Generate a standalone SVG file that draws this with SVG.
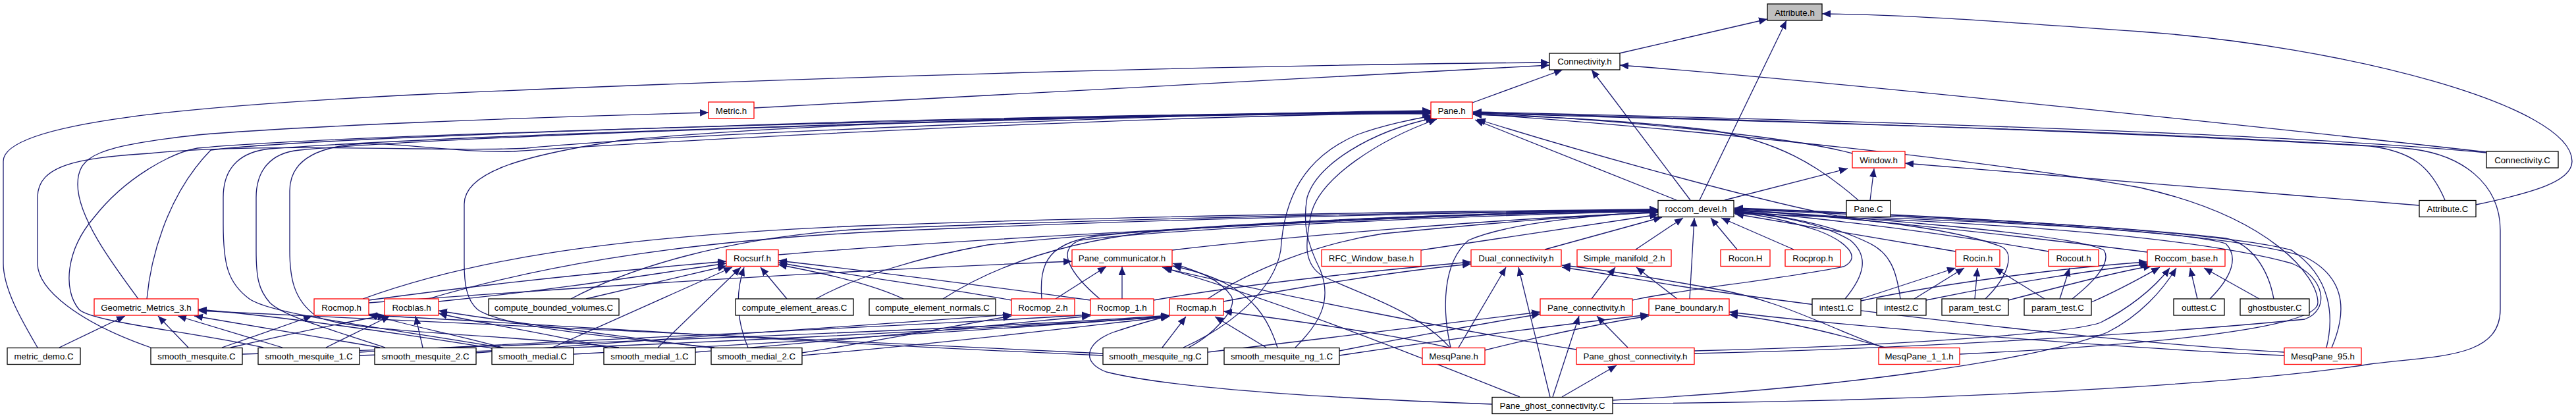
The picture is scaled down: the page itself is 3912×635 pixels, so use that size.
<svg xmlns="http://www.w3.org/2000/svg" width="3912" height="635" viewBox="0 0 3912 635">
<style>
.node rect{fill:#fff;stroke:#000;stroke-width:1.3}
.node.r rect{stroke:#ff0000}
.node.g rect{fill:#bfbfbf}
.node text{font-family:"Liberation Sans",Arial,sans-serif;font-size:13.3px;text-anchor:middle;fill:#000}
#edges path{fill:none;stroke:#191970;stroke-width:1.3;marker-end:url(#a)}
</style>
<defs>
<marker id="a" markerUnits="userSpaceOnUse" markerWidth="14" markerHeight="12" refX="13" refY="5.5" orient="auto"><path d="M0,0 L13,5.5 L0,11 z" fill="#191970" stroke="none"/></marker>
</defs>
<rect width="3912" height="635" fill="#fff"/>
<g id="edges">
<path d="M2459,81 L2684,29"/>
<path d="M2581,304 L2713,31"/>
<path d="M3760,311 C3850,292 3906,275 3906,245 C3906,160 3560,70 3250,48 C3050,34 2900,22 2767,21"/>
<path d="M57,528 C35,490 5,440 5,400 L5,245 C5,185 300,160 650,143 C1200,118 1900,98 2353,95"/>
<path d="M1145,164 C1600,140 2000,118 2353,99"/>
<path d="M2236,156 L2373,106"/>
<path d="M2567,304 L2417,106"/>
<path d="M3776,231 C3500,200 2800,125 2460,99"/>
<path d="M210,454 C170,400 118,330 118,280 C118,235 150,222 300,205 C450,192 800,178 1076,171"/>
<path d="M223,454 C228,400 250,300 320,228 C420,215 800,200 1300,185 C1700,175 2000,171 2173,170"/>
<path d="M229,528 C120,490 57,440 57,400 L57,300 C57,250 120,240 227,233 C400,215 700,232 800,225 C1000,205 1800,172 2173,168"/>
<path d="M400,528 C300,505 140,490 120,470 C95,440 100,380 143,330 C190,270 260,232 300,225 C500,205 1500,178 2173,169"/>
<path d="M760,528 C600,500 420,480 380,455 C345,430 339,400 339,340 L339,300 C339,250 370,230 410,226 C700,205 1600,176 2173,170"/>
<path d="M585,528 C500,500 430,480 410,460 C392,440 389,420 389,380 L389,300 C389,260 410,232 455,228 C700,205 1600,176 2173,171"/>
<path d="M940,528 C800,510 520,505 480,480 C445,455 440,420 440,380 L440,290 C440,250 470,225 540,219 C600,215 700,233 780,230 C1000,215 1700,176 2173,172"/>
<path d="M1085,528 C900,510 760,495 725,470 C708,455 705,430 705,400 L705,310 C705,260 800,235 945,213 C1300,180 1900,171 2173,173"/>
<path d="M1797,528 C1870,495 1935,440 1945,380 C1950,300 1980,240 2060,205 C2100,190 2150,180 2175,176"/>
<path d="M1967,528 C2000,495 2025,460 2005,410 C1985,370 1978,340 1985,300 C2000,250 2080,200 2178,179"/>
<path d="M2202,528 C2150,470 2060,445 2010,420 C1975,400 1985,360 1990,330 C2000,270 2100,210 2182,181"/>
<path d="M2546,304 L2240,182"/>
<path d="M2813,233 C2700,203 2400,178 2237,172"/>
<path d="M2822,304 C2760,250 2700,215 2600,198 C2450,180 2300,176 2237,174"/>
<path d="M3776,232 C3500,205 2900,185 2237,170"/>
<path d="M3713,304 C3690,250 3660,230 3600,222 C3300,205 2800,185 2237,171"/>
<path d="M2449,613 C2900,612 3400,585 3600,553 C3700,540 3797,545 3797,470 L3797,350 C3797,280 3740,232 3650,225 C3300,200 2700,185 2237,172"/>
<path d="M3541,528 C3566,470 3560,420 3500,390 C3350,345 2950,335 2790,328 C2650,300 2400,230 2243,181"/>
<path d="M2976,538 C3250,525 3520,500 3520,460 C3520,420 3450,330 3250,285 C3000,240 2500,190 2237,173"/>
<path d="M2619,304 L2806,256"/>
<path d="M2840,304 L2846,256"/>
<path d="M3674,312 C3400,290 3100,265 2893,248"/>
<path d="M1182,387 C1500,360 2200,325 2518,318"/>
<path d="M551,454 C700,400 900,360 1310,343 C1800,325 2300,320 2518,318"/>
<path d="M650,454 C800,410 1000,370 1310,353 C1800,330 2300,322 2518,319"/>
<path d="M867,454 C950,410 1100,360 1310,348 C1800,328 2300,321 2518,319"/>
<path d="M1239,454 C1300,420 1400,390 1500,372 C1800,340 2300,323 2518,320"/>
<path d="M1432,454 C1500,410 1600,370 1750,352 C2000,332 2300,322 2518,320"/>
<path d="M1582,454 C1578,400 1590,365 1680,357 C1900,335 2300,322 2518,320"/>
<path d="M1670,454 C1630,420 1600,380 1640,365 C1800,345 2300,325 2518,321"/>
<path d="M1834,454 C1900,410 2000,370 2100,355 C2300,335 2450,325 2518,322"/>
<path d="M1780,380 C1950,360 2300,330 2518,323"/>
<path d="M2158,380 L2518,326"/>
<path d="M2346,379 L2524,330"/>
<path d="M2484,379 L2556,331"/>
<path d="M2566,454 L2573,331"/>
<path d="M2638,379 L2598,331"/>
<path d="M2724,379 L2614,331"/>
<path d="M2970,382 L2635,325"/>
<path d="M3111,382 C2900,345 2700,325 2634,321"/>
<path d="M3261,383 C3000,350 2750,325 2634,319"/>
<path d="M2802,454 C2830,420 2840,390 2810,365 C2760,335 2680,325 2634,322"/>
<path d="M2886,454 C2880,410 2870,385 2840,370 C2780,340 2700,326 2634,321"/>
<path d="M3015,454 C3050,420 3060,385 3040,375 C2950,340 2750,325 2634,320"/>
<path d="M3147,454 C3190,420 3205,395 3195,380 C3150,355 2800,328 2634,319"/>
<path d="M3356,454 C3390,420 3400,390 3380,370 C3300,345 2800,325 2634,318"/>
<path d="M3453,454 C3445,410 3420,370 3380,362 C3200,340 2800,323 2634,317"/>
<path d="M3533,528 C3545,480 3540,420 3480,380 C3350,345 2800,322 2634,316"/>
<path d="M2203,528 C2190,470 2190,400 2230,365 C2300,335 2450,325 2518,322"/>
<path d="M2479,456 C2550,440 2700,425 2800,405 C2830,390 2800,365 2760,350 C2700,330 2660,325 2634,323"/>
<path d="M2573,537 C2900,530 3300,505 3500,485 C3540,470 3530,420 3480,400 C3300,350 2900,333 2634,324"/>
<path d="M1752,456 C1900,430 2100,410 2234,398"/>
<path d="M1858,458 C1980,435 2120,412 2234,401"/>
<path d="M2215,528 L2287,406"/>
<path d="M2354,603 L2306,406"/>
<path d="M2860,528 C2760,490 2700,455 2600,438 C2500,420 2420,408 2372,403"/>
<path d="M3469,535 C3200,520 2800,470 2600,442 C2500,428 2420,412 2372,406"/>
<path d="M2417,454 L2453,406"/>
<path d="M2547,454 L2485,406"/>
<path d="M2358,603 L2398,480"/>
<path d="M2472,528 L2425,480"/>
<path d="M2034,533 C2150,510 2250,492 2339,477"/>
<path d="M1834,535 C2000,515 2200,492 2339,474"/>
<path d="M2034,540 C2200,515 2400,490 2504,478"/>
<path d="M2255,532 C2350,508 2450,488 2504,480"/>
<path d="M2863,528 C2780,505 2700,485 2626,478"/>
<path d="M3469,540 C3200,528 2800,495 2626,474"/>
<path d="M2372,603 L2455,555"/>
<path d="M1603,454 L1680,405"/>
<path d="M1704,454 L1704,405"/>
<path d="M2308,603 C2150,540 1950,460 1765,406"/>
<path d="M1805,528 C1840,510 1880,470 1870,450 C1850,420 1810,410 1781,400"/>
<path d="M1940,528 C1925,480 1900,450 1860,430 C1830,415 1800,408 1781,404"/>
<path d="M560,460 C900,435 1300,410 1628,397"/>
<path d="M2394,531 C2200,500 1950,450 1767,407"/>
<path d="M560,456 C750,430 950,410 1103,397"/>
<path d="M666,458 C850,440 1000,415 1103,400"/>
<path d="M890,454 L1103,404"/>
<path d="M1195,454 L1155,406"/>
<path d="M1372,454 C1320,430 1250,415 1182,402"/>
<path d="M1536,456 C1420,435 1300,420 1182,399"/>
<path d="M1656,456 C1500,435 1350,415 1182,396"/>
<path d="M839,528 L1112,406"/>
<path d="M999,528 L1125,406"/>
<path d="M1136,528 C1120,490 1115,450 1130,406"/>
<path d="M90,528 L190,480"/>
<path d="M286,528 L240,480"/>
<path d="M429,528 L270,480"/>
<path d="M577,528 L295,480"/>
<path d="M760,531 C600,505 420,480 301,470"/>
<path d="M337,528 L474,480"/>
<path d="M770,530 C700,510 620,495 560,477"/>
<path d="M495,528 L592,480"/>
<path d="M642,528 L631,480"/>
<path d="M350,528 C450,505 520,490 586,479"/>
<path d="M930,530 C830,505 720,490 666,476"/>
<path d="M1090,530 C900,505 760,488 666,472"/>
<path d="M546,535 C900,515 1400,495 1656,478"/>
<path d="M1056,535 C1300,515 1500,495 1656,480"/>
<path d="M1923,528 L1845,481"/>
<path d="M723,536 C1000,515 1350,492 1536,478"/>
<path d="M1218,536 C1350,515 1450,495 1536,480"/>
<path d="M1765,528 L1801,481"/>
<path d="M368,538 C800,525 1500,500 1776,479"/>
<path d="M871,538 C1200,520 1600,495 1776,480"/>
<path d="M546,540 C1000,525 1500,500 1776,481"/>
<path d="M1218,540 C1450,520 1650,495 1776,481"/>
<path d="M2200,528 C2100,505 1950,485 1858,473"/>
<path d="M2266,614 C2100,608 1800,595 1680,565 C1640,550 1650,520 1690,505 C1720,495 1745,487 1776,480"/>
<path d="M2826,454 L2970,407"/>
<path d="M2907,454 L2983,407"/>
<path d="M2999,454 L3003,407"/>
<path d="M3105,454 L3029,407"/>
<path d="M3128,454 L3143,407"/>
<path d="M2826,457 C2950,430 3150,405 3261,398"/>
<path d="M2925,456 C3050,430 3180,410 3263,401"/>
<path d="M3050,456 C3150,430 3220,412 3268,404"/>
<path d="M3176,459 C3220,440 3255,420 3280,406"/>
<path d="M3337,454 L3326,407"/>
<path d="M3431,454 L3347,407"/>
<path d="M2573,533 C2900,525 3150,505 3190,490 C3230,470 3270,440 3295,407"/>
<path d="M2449,608 C2800,590 3100,545 3200,505 C3250,480 3285,440 3305,407"/>
<path d="M1675,537 C1200,515 600,485 301,472"/>
<path d="M1675,540 C1200,520 800,490 560,479"/>
</g>
<g id="n_attribute_h" class="node g"><rect x="2684" y="6" width="83" height="25"/><text x="2725.5" y="23.5">Attribute.h</text></g>
<g id="n_connectivity_h" class="node"><rect x="2353" y="81" width="107" height="25"/><text x="2406.5" y="98">Connectivity.h</text></g>
<g id="n_metric_h" class="node r"><rect x="1076" y="155" width="69" height="25"/><text x="1110.5" y="172.5">Metric.h</text></g>
<g id="n_pane_h" class="node r"><rect x="2173" y="155" width="63" height="25"/><text x="2204.5" y="172.5">Pane.h</text></g>
<g id="n_window_h" class="node r"><rect x="2813" y="230" width="80" height="25"/><text x="2853" y="247.5">Window.h</text></g>
<g id="n_connectivity_c" class="node"><rect x="3776" y="230" width="109" height="25"/><text x="3830.5" y="247.5">Connectivity.C</text></g>
<g id="n_roccom_devel_h" class="node"><rect x="2518" y="304.5" width="115" height="25"/><text x="2575.5" y="322">roccom_devel.h</text></g>
<g id="n_pane_c" class="node"><rect x="2804" y="304.5" width="67" height="25"/><text x="2837.5" y="322">Pane.C</text></g>
<g id="n_attribute_c" class="node"><rect x="3674" y="304.5" width="86" height="25"/><text x="3717" y="322">Attribute.C</text></g>
<g id="n_rocsurf_h" class="node r"><rect x="1103" y="379.5" width="79" height="25"/><text x="1142.5" y="397">Rocsurf.h</text></g>
<g id="n_pane_communicator_h" class="node r"><rect x="1628" y="379.5" width="152" height="25"/><text x="1704" y="397">Pane_communicator.h</text></g>
<g id="n_rfc_window_base_h" class="node r"><rect x="2007" y="379.5" width="151" height="25"/><text x="2082.5" y="397">RFC_Window_base.h</text></g>
<g id="n_dual_connectivity_h" class="node r"><rect x="2234" y="379.5" width="137" height="25"/><text x="2302.5" y="397">Dual_connectivity.h</text></g>
<g id="n_simple_manifold_2_h" class="node r"><rect x="2395" y="379.5" width="143" height="25"/><text x="2466.5" y="397">Simple_manifold_2.h</text></g>
<g id="n_rocon_H" class="node r"><rect x="2613" y="379.5" width="75" height="25"/><text x="2650.5" y="397">Rocon.H</text></g>
<g id="n_rocprop_h" class="node r"><rect x="2711" y="379.5" width="84" height="25"/><text x="2753" y="397">Rocprop.h</text></g>
<g id="n_rocin_h" class="node r"><rect x="2970" y="379.5" width="67" height="25"/><text x="3003.5" y="397">Rocin.h</text></g>
<g id="n_rocout_h" class="node r"><rect x="3111" y="379.5" width="76" height="25"/><text x="3149" y="397">Rocout.h</text></g>
<g id="n_roccom_base_h" class="node r"><rect x="3261" y="379.5" width="118" height="25"/><text x="3320" y="397">Roccom_base.h</text></g>
<g id="n_geometric_metrics_3_h" class="node r"><rect x="143" y="454" width="158" height="25"/><text x="222" y="471.5">Geometric_Metrics_3.h</text></g>
<g id="n_rocmop_h" class="node r"><rect x="477" y="454" width="83" height="25"/><text x="518.5" y="471.5">Rocmop.h</text></g>
<g id="n_rocblas_h" class="node r"><rect x="584" y="454" width="82" height="25"/><text x="625" y="471.5">Rocblas.h</text></g>
<g id="n_compute_bounded_volumes_c" class="node"><rect x="742" y="454" width="198" height="25"/><text x="841" y="471.5">compute_bounded_volumes.C</text></g>
<g id="n_compute_element_areas_c" class="node"><rect x="1117" y="454" width="179" height="25"/><text x="1206.5" y="471.5">compute_element_areas.C</text></g>
<g id="n_compute_element_normals_c" class="node"><rect x="1320" y="454" width="192" height="25"/><text x="1416" y="471.5">compute_element_normals.C</text></g>
<g id="n_rocmop_2_h" class="node r"><rect x="1536" y="454" width="96" height="25"/><text x="1584" y="471.5">Rocmop_2.h</text></g>
<g id="n_rocmop_1_h" class="node r"><rect x="1656" y="454" width="96" height="25"/><text x="1704" y="471.5">Rocmop_1.h</text></g>
<g id="n_rocmap_h" class="node r"><rect x="1776" y="454" width="82" height="25"/><text x="1817" y="471.5">Rocmap.h</text></g>
<g id="n_pane_connectivity_h" class="node r"><rect x="2339" y="454" width="140" height="25"/><text x="2409" y="471.5">Pane_connectivity.h</text></g>
<g id="n_pane_boundary_h" class="node r"><rect x="2504" y="454" width="122" height="25"/><text x="2565" y="471.5">Pane_boundary.h</text></g>
<g id="n_intest1_c" class="node"><rect x="2752" y="454" width="74" height="25"/><text x="2789" y="471.5">intest1.C</text></g>
<g id="n_intest2_c" class="node"><rect x="2850" y="454" width="75" height="25"/><text x="2887.5" y="471.5">intest2.C</text></g>
<g id="n_param_test_c_1" class="node"><rect x="2949" y="454" width="101" height="25"/><text x="2999.5" y="471.5">param_test.C</text></g>
<g id="n_param_test_c_2" class="node"><rect x="3074" y="454" width="102" height="25"/><text x="3125" y="471.5">param_test.C</text></g>
<g id="n_outtest_c" class="node"><rect x="3301" y="454" width="77" height="25"/><text x="3339.5" y="471.5">outtest.C</text></g>
<g id="n_ghostbuster_c" class="node"><rect x="3402" y="454" width="105" height="25"/><text x="3454.5" y="471.5">ghostbuster.C</text></g>
<g id="n_metric_demo_c" class="node"><rect x="11" y="528.5" width="111" height="25"/><text x="66.5" y="546">metric_demo.C</text></g>
<g id="n_smooth_mesquite_c" class="node"><rect x="229" y="528.5" width="139" height="25"/><text x="298.5" y="546">smooth_mesquite.C</text></g>
<g id="n_smooth_mesquite_1_c" class="node"><rect x="392" y="528.5" width="154" height="25"/><text x="469" y="546">smooth_mesquite_1.C</text></g>
<g id="n_smooth_mesquite_2_c" class="node"><rect x="569" y="528.5" width="154" height="25"/><text x="646" y="546">smooth_mesquite_2.C</text></g>
<g id="n_smooth_medial_c" class="node"><rect x="747" y="528.5" width="124" height="25"/><text x="809" y="546">smooth_medial.C</text></g>
<g id="n_smooth_medial_1_c" class="node"><rect x="917" y="528.5" width="139" height="25"/><text x="986.5" y="546">smooth_medial_1.C</text></g>
<g id="n_smooth_medial_2_c" class="node"><rect x="1080" y="528.5" width="138" height="25"/><text x="1149" y="546">smooth_medial_2.C</text></g>
<g id="n_smooth_mesquite_ng_c" class="node"><rect x="1675" y="528.5" width="159" height="25"/><text x="1754.5" y="546">smooth_mesquite_ng.C</text></g>
<g id="n_smooth_mesquite_ng_1_c" class="node"><rect x="1859" y="528.5" width="175" height="25"/><text x="1946.5" y="546">smooth_mesquite_ng_1.C</text></g>
<g id="n_mesqpane_h" class="node r"><rect x="2160" y="528.5" width="95" height="25"/><text x="2207.5" y="546">MesqPane.h</text></g>
<g id="n_pane_ghost_connectivity_h" class="node r"><rect x="2394" y="528.5" width="179" height="25"/><text x="2483.5" y="546">Pane_ghost_connectivity.h</text></g>
<g id="n_mesqpane_1_1_h" class="node r"><rect x="2853" y="528.5" width="123" height="25"/><text x="2914.5" y="546">MesqPane_1_1.h</text></g>
<g id="n_mesqpane_95_h" class="node r"><rect x="3469" y="528.5" width="117" height="25"/><text x="3527.5" y="546">MesqPane_95.h</text></g>
<g id="n_pane_ghost_connectivity_c" class="node"><rect x="2266" y="603.5" width="183" height="25"/><text x="2357.5" y="621">Pane_ghost_connectivity.C</text></g>
</svg>
